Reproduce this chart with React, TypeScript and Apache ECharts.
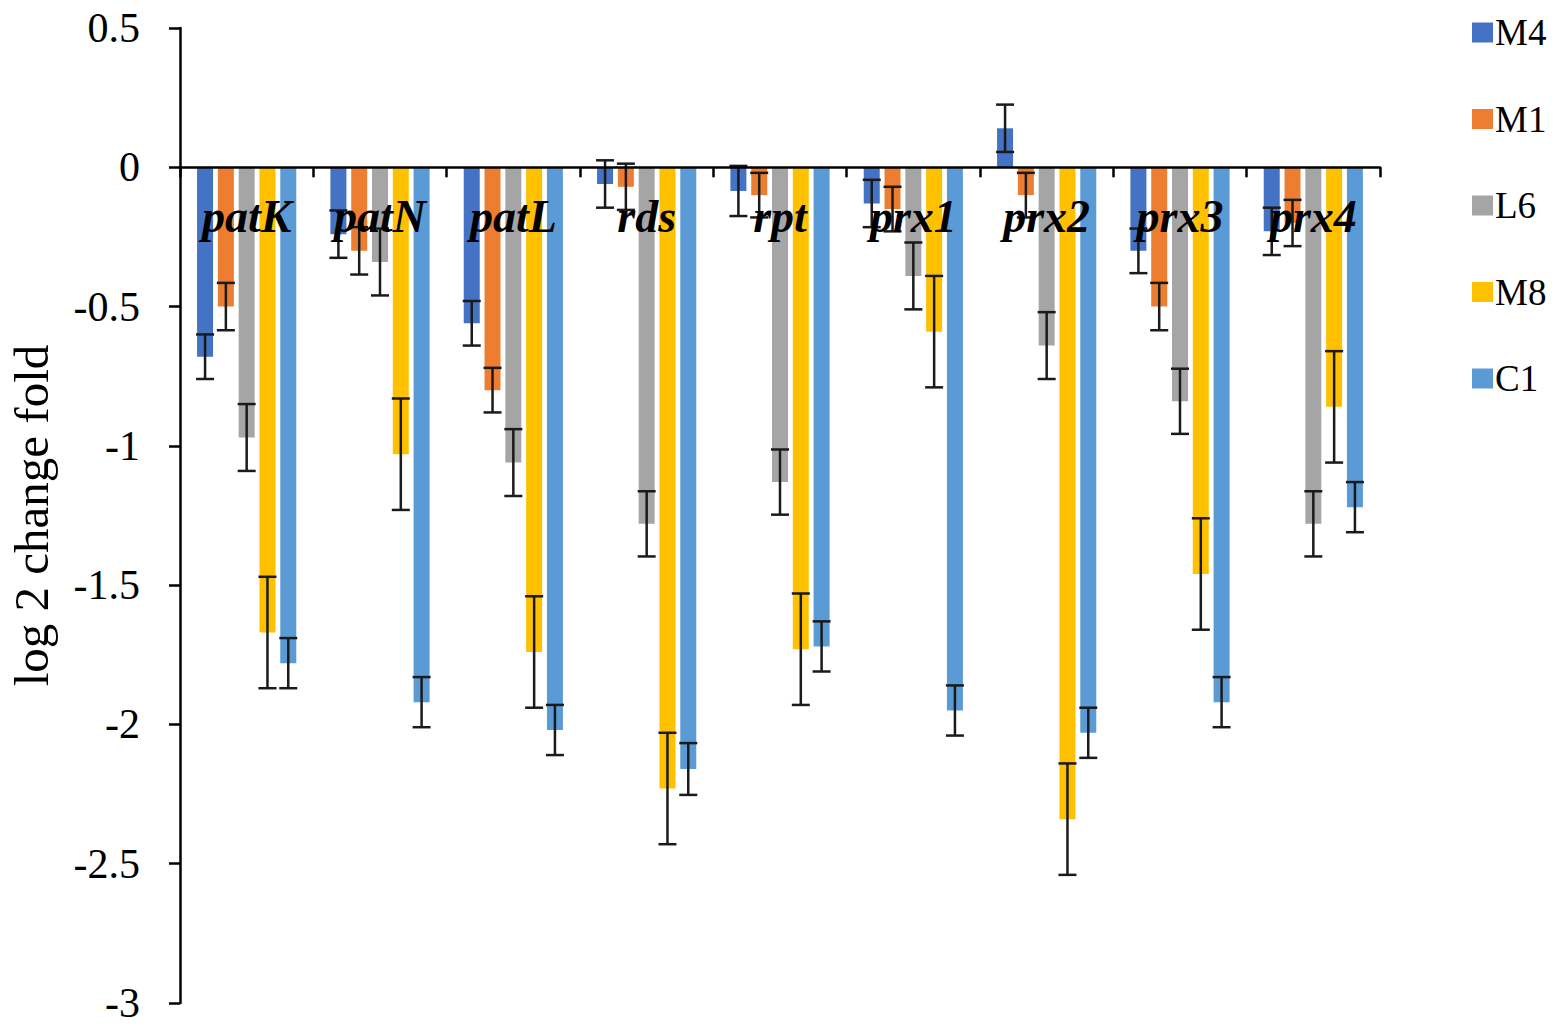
import React, { useEffect, useRef } from "react";
import * as echarts from "echarts";

const categories = ["patK", "patN", "patL", "rds", "rpt", "prx1", "prx2", "prx3", "prx4"];
const seriesNames = ["M4", "M1", "L6", "M8", "C1"];
const colors = ["#4472C4", "#ED7D31", "#A5A5A5", "#FFC000", "#5B9BD5"];

const M4 = [-0.68, -0.24, -0.56, -0.06, -0.085, -0.13, 0.14, -0.3, -0.23];
const M4err = [0.08, 0.085, 0.08, 0.085, 0.09, 0.085, 0.085, 0.08, 0.085];
const M1 = [-0.5, -0.3, -0.8, -0.07, -0.1, -0.15, -0.1, -0.5, -0.2];
const M1err = [0.085, 0.085, 0.08, 0.083, 0.08, 0.08, 0.08, 0.085, 0.083];
const L6 = [-0.97, -0.34, -1.06, -1.28, -1.13, -0.39, -0.64, -0.84, -1.28];
const L6err = [0.12, 0.12, 0.12, 0.117, 0.117, 0.12, 0.12, 0.117, 0.117];
const M8 = [-1.67, -1.03, -1.74, -2.23, -1.73, -0.59, -2.34, -1.46, -0.86];
const M8err = [0.2, 0.2, 0.2, 0.2, 0.2, 0.2, 0.2, 0.2, 0.2];
const C1 = [-1.78, -1.92, -2.02, -2.16, -1.72, -1.95, -2.03, -1.92, -1.22];
const C1err = [0.09, 0.09, 0.09, 0.093, 0.09, 0.09, 0.09, 0.09, 0.09];

const values = [M4, M1, L6, M8, C1];
const errors = [M4err, M1err, L6err, M8err, C1err];

const yTicks = { min: -3, max: 0.5, interval: 0.5 };

const FONT = '"Liberation Serif", "Times New Roman", serif';
const BAR_W = 16;
const BAR_GAP = 0.3;
const GRID_TOP = 28;
const GRID_BOTTOM = 23;
const CHART_H = 1026;

export default function App() {
  const ref = useRef<HTMLDivElement>(null);
  useEffect(() => {
    document.body.style.margin = "0";
    const chart = echarts.init(ref.current!, null, { renderer: "svg" });
    const pitch = BAR_W * (1 + BAR_GAP);
    const n = seriesNames.length;

    // pixel distance from grid bottom to the zero line (layout offset of the x axis)
    const gridH = CHART_H - GRID_TOP - GRID_BOTTOM;
    const zeroFromBottom = ((0 - yTicks.min) / (yTicks.max - yTicks.min)) * gridH;

    const barSeries = seriesNames.map((name, i) => ({
      name,
      type: "bar",
      data: values[i],
      barWidth: BAR_W,
      barGap: `${BAR_GAP * 100}%`,
      itemStyle: { color: colors[i] },
      z: 2,
    }));

    const errSeries = seriesNames.map((name, i) => ({
      name: name + " err",
      type: "custom",
      z: 4,
      data: values[i].map((v, k) => [k, v, errors[i][k]]),
      renderItem: (params: any, api: any) => {
        const cat = api.value(0);
        const mean = api.value(1);
        const err = api.value(2);
        const off = (i - (n - 1) / 2) * pitch;
        const hi = api.coord([cat, mean + err]);
        const lo = api.coord([cat, mean - err]);
        const x = hi[0] + off;
        const hw = 9;
        const style = { stroke: "#1a1a1a", lineWidth: 2.5 };
        return {
          type: "group",
          children: [
            { type: "line", shape: { x1: x, y1: hi[1], x2: x, y2: lo[1] }, style },
            { type: "line", shape: { x1: x - hw, y1: hi[1], x2: x + hw, y2: hi[1] }, style },
            { type: "line", shape: { x1: x - hw, y1: lo[1], x2: x + hw, y2: lo[1] }, style },
          ],
        };
      },
    }));

    chart.setOption({
      animation: false,
      backgroundColor: "#ffffff",
      textStyle: { fontFamily: FONT },
      grid: {
        left: 180,
        right: 179,
        top: GRID_TOP,
        bottom: GRID_BOTTOM,
        containLabel: false,
        outerBoundsMode: "none",
      },
      legend: {
        data: seriesNames,
        orient: "vertical",
        left: 1467,
        top: 9,
        icon: "rect",
        itemWidth: 21,
        itemHeight: 20,
        itemGap: 49.5,
        textStyle: { fontFamily: FONT, fontSize: 37, color: "#000", lineHeight: 34, padding: [0, 0, 0, -3] },
      },
      xAxis: {
        type: "category",
        data: categories,
        position: "bottom",
        offset: -zeroFromBottom,
        z: 10,
        axisLine: { onZero: false, lineStyle: { color: "#000", width: 2.5 } },
        axisTick: { show: true, length: 10, lineStyle: { color: "#000", width: 2.5 } },
        axisLabel: {
          margin: 26,
          fontFamily: FONT,
          fontSize: 46,
          fontWeight: "bold",
          fontStyle: "italic",
          color: "#000",
        },
        splitLine: { show: false },
      },
      yAxis: {
        type: "value",
        min: yTicks.min,
        max: yTicks.max,
        interval: yTicks.interval,
        name: "log 2 change fold",
        nameLocation: "middle",
        nameGap: 124,
        nameTextStyle: { fontFamily: FONT, fontSize: 49, color: "#000" },
        axisLine: { show: true, lineStyle: { color: "#000", width: 2.5 } },
        axisTick: { show: true, length: 11, lineStyle: { color: "#000", width: 2.5 } },
        axisLabel: { margin: 40, fontFamily: FONT, fontSize: 42, color: "#000" },
        splitLine: { show: false },
      },
      series: [...barSeries, ...errSeries],
    });
    return () => chart.dispose();
  }, []);
  return <div ref={ref} style={{ width: 1559, height: CHART_H }} />;
}
